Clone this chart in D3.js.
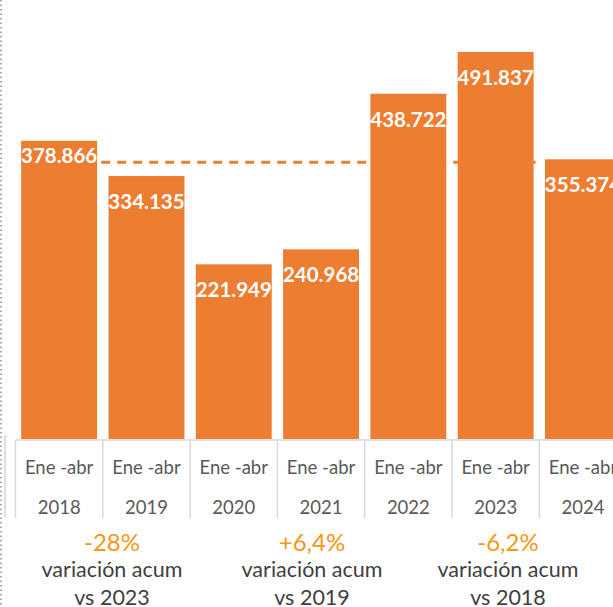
<!DOCTYPE html>
<html>
<head>
<meta charset="utf-8">
<script src="https://cdn.jsdelivr.net/npm/d3@7"></script>
<style>
  body { margin: 0; background: #fff; }
  svg { display: block; }
</style>
</head>
<body>
<svg class="svg"></svg>
<script>
// values (thousands)
const years = ["2018", "2019", "2020", "2021", "2022", "2023", "2024"];
const values = [378.866, 334.135, 221.949, 240.968, 438.722, 491.837, 355.374];
const period = "Ene -abr";
const notes = [
    { pct: "-28%", text: "variación acum", vs: "vs 2023" },
    { pct: "+6,4%", text: "variación acum", vs: "vs 2019" },
    { pct: "-6,2%", text: "variación acum", vs: "vs 2018" }
];

const data = years.map((y, i) => ({ year: y, value: values[i] }));

const width = 613, height = 607;
const orange = "#ed7d31";

const svg = d3.select(".svg")
    .attr("width", width)
    .attr("height", height)
    .attr("font-family", "Lato, sans-serif");

x = d3.scaleBand()
    .domain(years)
    .range([15.5, 15.5 + 7 * 87.3])
    .paddingInner(0.13)
    .paddingOuter(0.065)

y = d3.scaleLinear()
    .domain([0, 500])
    .range([439, 45.5])

// dotted border on the left
svg.append("line")
    .attr("x1", 1).attr("x2", 1)
    .attr("y1", 0).attr("y2", height)
    .attr("stroke", "#8c8c8c")
    .attr("stroke-width", 1.5)
    .attr("stroke-dasharray", "1.5,3");

// little bracket left of the axis
svg.append("path")
    .attr("d", "M7,436H5V517")
    .attr("fill", "none")
    .attr("stroke", "#c8c8c8")
    .attr("stroke-width", 1.2);

// average line, behind the bars
const avg = d3.mean(values);
svg.append("line")
    .attr("x1", x("2018"))
    .attr("x2", x("2023") + x.bandwidth() + 2)
    .attr("y1", y(avg)).attr("y2", y(avg))
    .attr("stroke", orange)
    .attr("stroke-width", 3)
    .attr("stroke-dasharray", "9,7");

const bar = svg.selectAll("g.bar")
    .data(data)
    .join("g")
    .attr("class", "bar")
    .attr("transform", d => `translate(${x(d.year)},0)`);

bar.append("rect")
    .attr("fill", orange)
    .attr("y", d => y(d.value))
    .attr("width", x.bandwidth())
    .attr("height", d => y(0) - y(d.value));

bar.append("text")
    .attr("fill", "#fff")
    .attr("font-weight", "bold")
    .attr("font-size", 20.5)
    .attr("text-anchor", "middle")
    .attr("x", x.bandwidth() / 2)
    .attr("y", (d, i) => y(d.value) + (i === 0 ? 22 : 33))
    .text(d => d3.format(".3f")(d.value));

// category axis drawn as a table
const axisTop = 440, axisBottom = 518;
svg.append("line")
    .attr("x1", x.range()[0]).attr("x2", width)
    .attr("y1", axisTop).attr("y2", axisTop)
    .attr("stroke", "#d9d9d9")
    .attr("stroke-width", 1.5);

svg.selectAll("line.sep")
    .data(years)
    .join("line")
    .attr("class", "sep")
    .attr("x1", d => x(d) - x.step() * x.paddingInner() / 2)
    .attr("x2", d => x(d) - x.step() * x.paddingInner() / 2)
    .attr("y1", axisTop).attr("y2", axisBottom)
    .attr("stroke", "#d9d9d9")
    .attr("stroke-width", 1.5);

svg.selectAll("text.per")
    .data(years)
    .join("text")
    .attr("class", "per")
    .attr("x", d => x(d) + x.bandwidth() / 2)
    .attr("y", 474)
    .attr("text-anchor", "middle")
    .attr("font-size", 18.5)
    .attr("fill", "#595959")
    .text(period);

svg.selectAll("text.yr")
    .data(years)
    .join("text")
    .attr("class", "yr")
    .attr("x", d => x(d) + x.bandwidth() / 2)
    .attr("y", 514)
    .attr("text-anchor", "middle")
    .attr("font-size", 18.5)
    .attr("fill", "#595959")
    .text(d => d);

// notes under the chart
const noteX = [112, 312, 508];
const note = svg.selectAll("g.note")
    .data(notes)
    .join("g")
    .attr("class", "note")
    .attr("transform", (d, i) => `translate(${noteX[i]},0)`)
    .attr("text-anchor", "middle");

note.append("text")
    .attr("y", 551)
    .attr("font-size", 24)
    .attr("fill", "#fb9614")
    .text(d => d.pct);

note.append("text")
    .attr("y", 577)
    .attr("font-size", 21.5)
    .attr("fill", "#404040")
    .text(d => d.text);

note.append("text")
    .attr("y", 605)
    .attr("font-size", 21.5)
    .attr("fill", "#404040")
    .text(d => d.vs);
</script>
</body>
</html>
